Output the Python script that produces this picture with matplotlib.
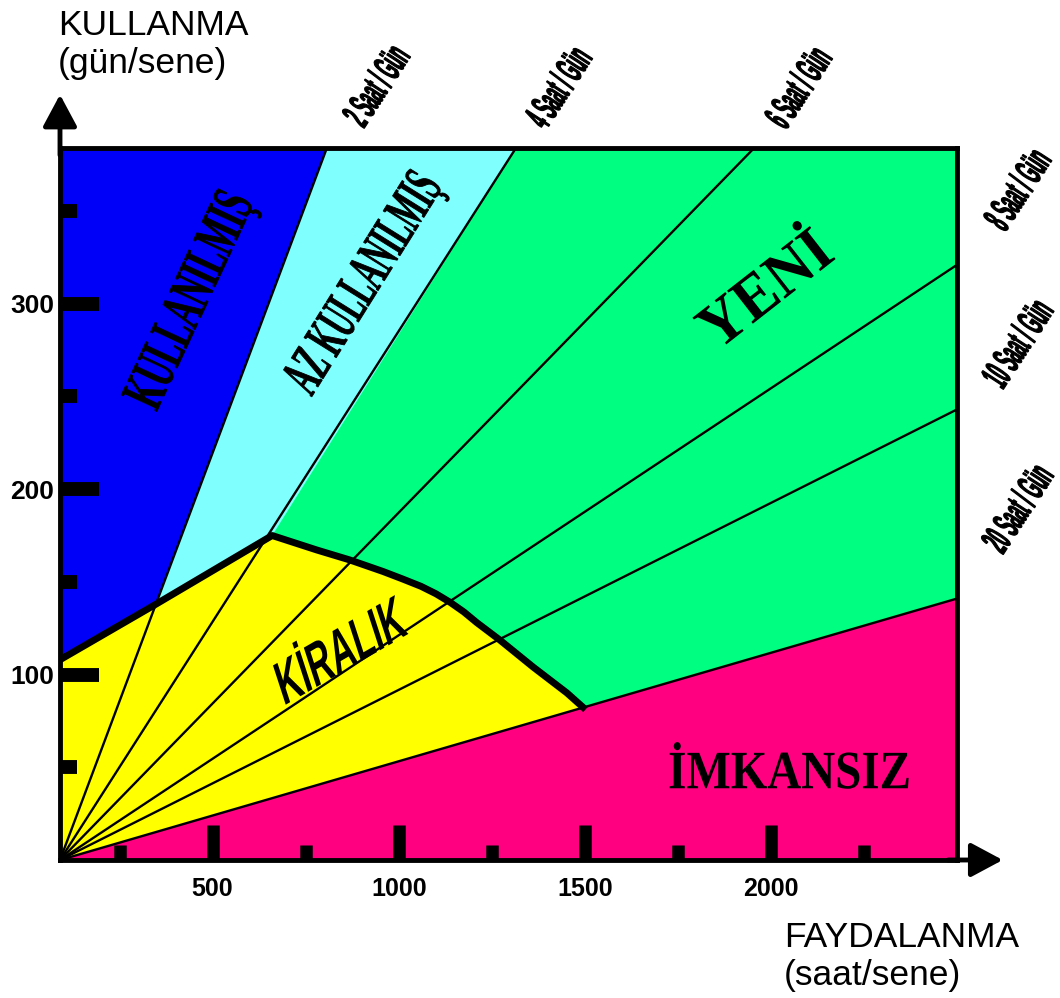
import numpy as np
import matplotlib
matplotlib.use('Agg')
import matplotlib.pyplot as plt
from matplotlib.textpath import TextPath
from matplotlib.patches import PathPatch
from matplotlib.font_manager import FontProperties
from matplotlib.transforms import Affine2D, ScaledTranslation

plt.rcParams['font.family'] = ['Liberation Sans', 'DejaVu Sans']

# axis ticks (saat/sene, gün/sene)
x_major = [500, 1000, 1500, 2000]
x_minor = [250, 750, 1250, 1750, 2250]
y_major = [100, 200, 300]
y_minor = [50, 150, 250, 350]

# rays from the origin: saat/gün lines, end points on the frame
origin_x, origin_y = 90, 0
ray_labels = ['2 Saat / Gün', '4 Saat / Gün', '6 Saat / Gün',
              '8 Saat / Gün', '10 Saat / Gün', '20 Saat / Gün']
ray_end_x = [807, 1315, 1955, 2500, 2500, 2500]
ray_end_y = [384, 384, 384, 321, 243, 141]

# KİRALIK upper boundary
kir_x = [90, 348, 660, 780, 869, 958, 1010, 1060, 1100, 1138, 1175, 1210, 1272, 1361, 1452, 1495]
kir_y = [108, 138, 175, 167.2, 161.8, 155.6, 151.6, 147.6, 143.6, 139.0, 133.8, 128.0, 118.6, 104.1, 90.1, 82.4]

# regions
blue_x = [90, 807, 348, 90]
blue_y = [384, 384, 138, 108]
cyan_x = [807, 1315, 660, 348]
cyan_y = [384, 384, 175, 138]
pink_x = [90, 2500, 2500]
pink_y = [0, 141, 0]

BLUE = '#0000f8'
CYAN = '#80ffff'
GREEN = '#00ff80'
YELLOW = '#ffff00'
PINK = '#ff0080'

fig = plt.figure(figsize=(10.6, 9.98), dpi=100)
ax = fig.add_axes([60 / 1060, 138 / 998, 897 / 1060, 712 / 998])
ax.set_facecolor(GREEN)

ax.fill(blue_x, blue_y, color=BLUE, lw=0, zorder=1)
ax.fill(cyan_x, cyan_y, color=CYAN, lw=0, zorder=1)
ax.fill(kir_x + [origin_x], kir_y + [origin_y], color=YELLOW, lw=0, zorder=1)
ax.fill(pink_x, pink_y, color=PINK, lw=0, zorder=1)

for ex, ey in zip(ray_end_x, ray_end_y):
    ax.plot([origin_x, ex], [origin_y, ey], color='black', lw=1.7, zorder=2,
            solid_capstyle='butt')
ax.plot(kir_x, kir_y, color='black', lw=5, zorder=3, solid_joinstyle='round')

ax.set_xlim(90, 2500)
ax.set_ylim(0, 384)

for s in ax.spines.values():
    s.set_linewidth(3.5)
ax.set_axisbelow(False)
ax.set_xticks(x_major)
ax.set_xticks(x_minor, minor=True)
ax.set_yticks(y_major)
ax.set_yticks(y_minor, minor=True)
ax.tick_params(axis='x', which='major', direction='in', length=25, width=9, pad=12, labelsize=18)
ax.tick_params(axis='x', which='minor', direction='in', length=11, width=9)
ax.tick_params(axis='y', which='major', direction='in', length=28, width=10, pad=4, labelsize=19)
ax.tick_params(axis='y', which='minor', direction='in', length=12, width=10)
ax.tick_params(top=False, right=False, which='both')
for lab in ax.get_xticklabels() + ax.get_yticklabels():
    lab.set_fontweight('bold')

arrow = dict(arrowstyle='-|>,head_length=1.4,head_width=0.75', lw=3.5, color='black',
             shrinkA=0, shrinkB=0, mutation_scale=14)
ax.annotate('', xy=(1.051, 0), xytext=(0.99, 0), xycoords='axes fraction',
            arrowprops=arrow, annotation_clip=False)
ax.annotate('', xy=(0, 1.075), xytext=(0, 0.99), xycoords='axes fraction',
            arrowprops=arrow, annotation_clip=False)


def skew_text(x, y, s, size, ang_u, ang_v, su, sv, family, lw=0.0):
    tp = TextPath((0, 0), s, size=size, prop=FontProperties(family=family, weight='bold'))
    bb = tp.get_extents()
    cx, cy = (bb.x0 + bb.x1) / 2, (bb.y0 + bb.y1) / 2
    a, b = np.radians(ang_u), np.radians(ang_v)
    m = np.array([[su * np.cos(a), sv * np.cos(b), 0],
                  [su * np.sin(a), sv * np.sin(b), 0],
                  [0, 0, 1]])
    tr = Affine2D().translate(-cx, -cy) + Affine2D(m) + ScaledTranslation(x, y, ax.transData)
    ax.add_patch(PathPatch(tp, transform=tr, facecolor='black', edgecolor='black',
                           lw=lw, clip_on=False, zorder=6))


# ray labels
label_pos = [(938, 418), (1427, 417), (2072, 417), (2661, 362), (2661, 279), (2661, 190)]
for (lx, ly), s in zip(label_pos, ray_labels):
    skew_text(lx, ly, s, 25, 57, 147, 0.6, 1.6, 'Liberation Sans', lw=0.8)

# region names
skew_text(447, 301, 'KULLANILMIŞ', 40, 65, 155, 0.8, 1.5, 'Liberation Serif', lw=0.6)
skew_text(912, 310, 'AZ KULLANILMIŞ', 40, 58, 148, 0.7, 1.45, 'Liberation Serif', lw=0.6)
skew_text(1971, 311, 'YENİ', 64, 38, 128, 0.95, 1.0, 'Liberation Serif')
skew_text(840, 116, 'KİRALIK', 40, 30, 108, 0.89, 1.5, 'Liberation Sans')
skew_text(2049, 51, 'İMKANSIZ', 47, 0, 90, 1.0, 1.15, 'Liberation Serif')

fig.text(58 / 1060, 1 - 9 / 998, 'KULLANMA\n(gün/sene)', ha='left', va='top',
         fontsize=25.5, linespacing=1.2)
fig.text(784 / 1060, 1 - 921 / 998, 'FAYDALANMA\n(saat/sene)', ha='left', va='top',
         fontsize=25.5, linespacing=1.2)

fig.savefig('out.png', dpi=100, facecolor='white')
